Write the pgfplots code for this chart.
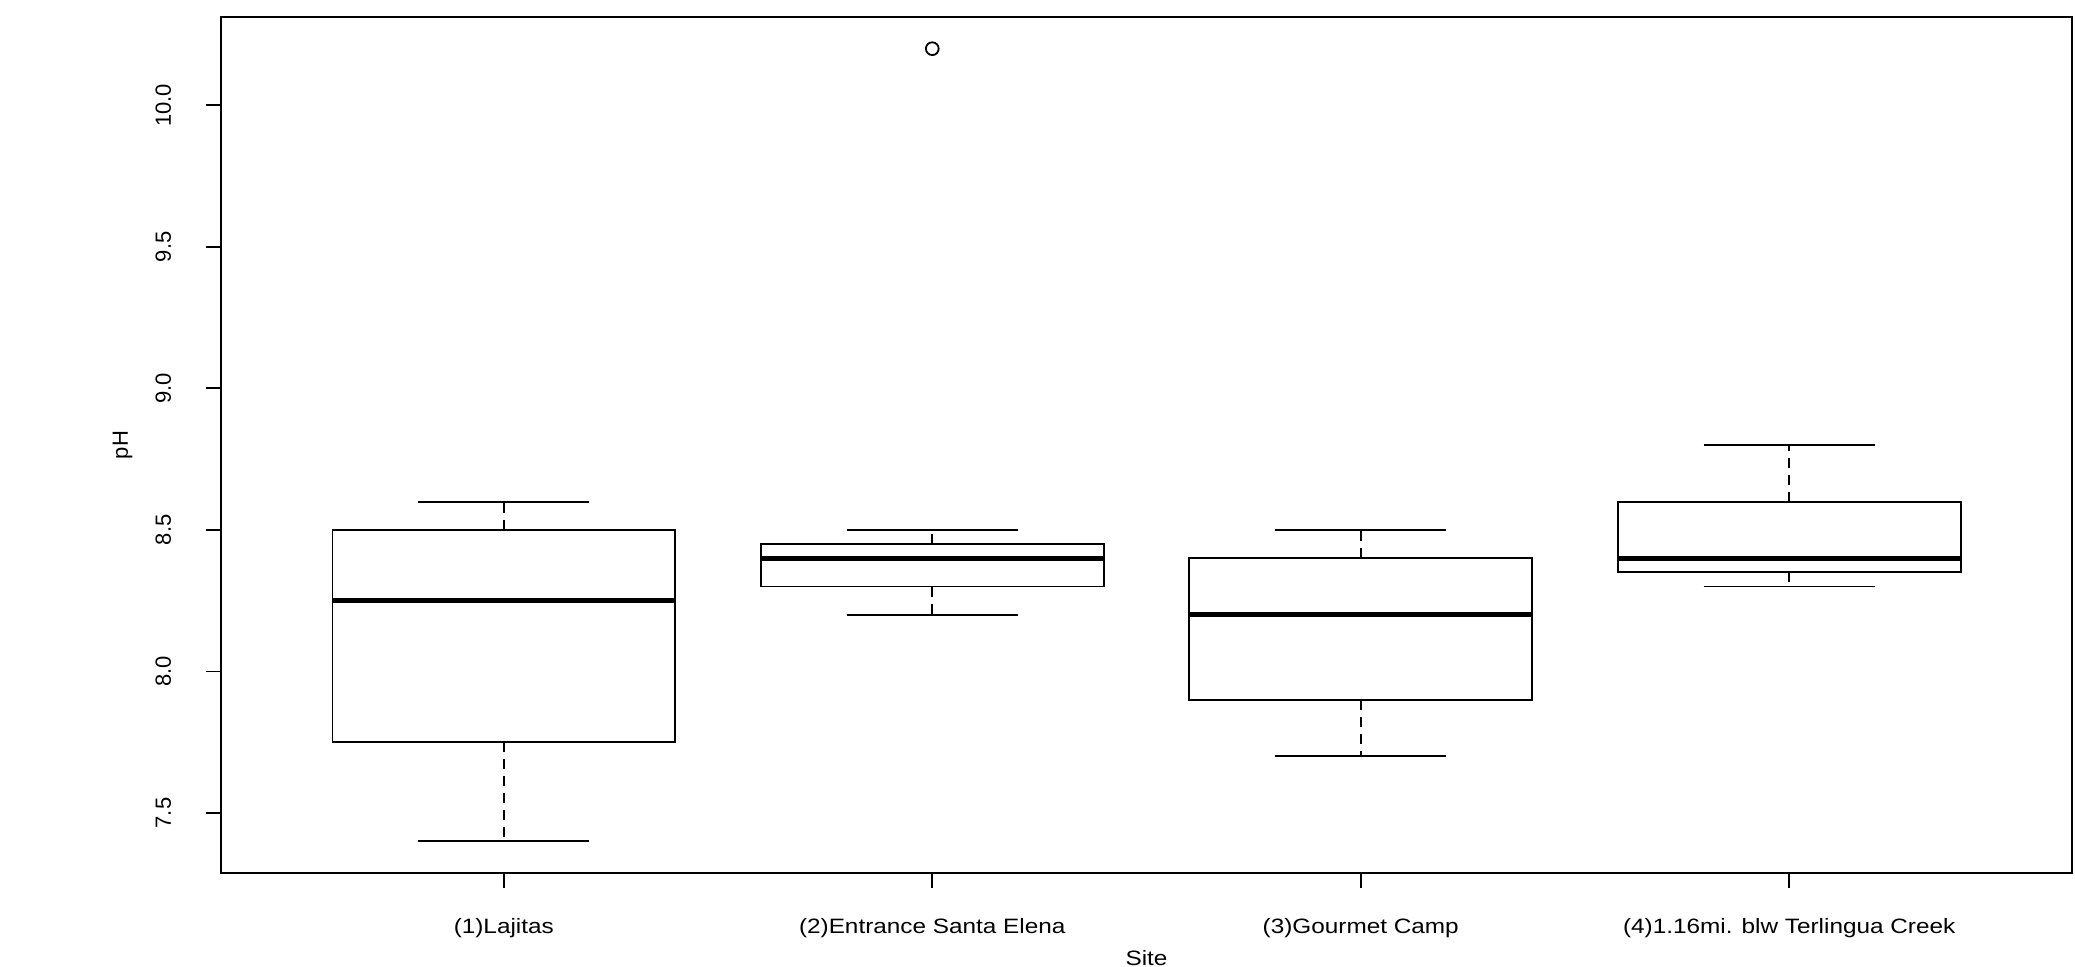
\documentclass[border=0pt]{standalone}
\usepackage{fontspec}
\setmainfont[FakeStretch=1.17]{Liberation Sans}
\newfontfamily\yfont{Liberation Sans}
\usepackage{pgfplots}
\pgfplotsset{compat=1.18}
\begin{document}
\begin{tikzpicture}
\begin{axis}[
  at={(0,0)}, anchor=south west,
  scale only axis, width=925.5pt, height=428pt,
  xmin=0.34, xmax=4.66, ymin=7.288, ymax=10.312,
  xtick={1,2,3,4},
  xticklabels={(1)Lajitas,(2)Entrance Santa Elena,(3)Gourmet Camp,(4)1.16mi. blw Terlingua Creek},
  ytick={7.5,8,8.5,9,9.5,10},
  tick pos=left, tick align=outside, major tick length=7.5pt,
  axis line style={line width=1pt, black},
  every tick/.style={black, line width=0.9pt},
  xticklabel style={font=\fontsize{10.4}{12}\selectfont, anchor=north, yshift=-11.7pt},
  yticklabel style={font=\yfont\fontsize{11}{13}\selectfont, rotate=90, anchor=south,
    /pgf/number format/.cd, fixed, fixed zerofill, precision=1, assume math mode=true},
  yticklabel shift=13.9pt,
  xlabel={Site},
  xlabel style={font=\fontsize{10.4}{12}\selectfont, at={(axis description cs:0.5,0)}, anchor=north, yshift=-35.3pt},
  ylabel={pH},
  ylabel style={font=\yfont\fontsize{11}{13}\selectfont, at={([xshift=-49.25pt]axis description cs:0,0.5)}, anchor=center, rotate=0},
  box/.style={black, line width=0.9pt, mark=none, line join=miter},
  med/.style={black, line width=2.6pt, mark=none, line cap=butt},
  stem/.style={black, line width=0.9pt, mark=none, dash pattern=on 5pt off 3.5pt},
  cap/.style={black, line width=0.9pt, mark=none},
]
% (1) Lajitas: whiskers 7.4 / 8.6, quartiles 7.75 / 8.5, median 8.25
\addplot[stem] coordinates {(1,8.5) (1,8.6)};
\addplot[stem] coordinates {(1,7.75) (1,7.4)};
\addplot[cap] coordinates {(0.8,8.6) (1.2,8.6)};
\addplot[cap] coordinates {(0.8,7.4) (1.2,7.4)};
\addplot[box] coordinates {(0.6,7.75) (1.4,7.75) (1.4,8.5) (0.6,8.5)} -- cycle;
\addplot[med] coordinates {(0.6,8.25) (1.4,8.25)};
% (2) Entrance Santa Elena: whiskers 8.2 / 8.5, quartiles 8.3 / 8.45, median 8.4, outlier 10.2
\addplot[stem] coordinates {(2,8.45) (2,8.5)};
\addplot[stem] coordinates {(2,8.3) (2,8.2)};
\addplot[cap] coordinates {(1.8,8.5) (2.2,8.5)};
\addplot[cap] coordinates {(1.8,8.2) (2.2,8.2)};
\addplot[box] coordinates {(1.6,8.3) (2.4,8.3) (2.4,8.45) (1.6,8.45)} -- cycle;
\addplot[med] coordinates {(1.6,8.4) (2.4,8.4)};
\addplot[only marks, mark=o, mark size=3.2pt, mark options={black, line width=0.9pt}] coordinates {(2,10.2)};
% (3) Gourmet Camp: whiskers 7.7 / 8.5, quartiles 7.9 / 8.4, median 8.2
\addplot[stem] coordinates {(3,8.4) (3,8.5)};
\addplot[stem] coordinates {(3,7.9) (3,7.7)};
\addplot[cap] coordinates {(2.8,8.5) (3.2,8.5)};
\addplot[cap] coordinates {(2.8,7.7) (3.2,7.7)};
\addplot[box] coordinates {(2.6,7.9) (3.4,7.9) (3.4,8.4) (2.6,8.4)} -- cycle;
\addplot[med] coordinates {(2.6,8.2) (3.4,8.2)};
% (4) 1.16mi. blw Terlingua Creek: whiskers 8.3 / 8.8, quartiles 8.35 / 8.6, median 8.4
\addplot[stem] coordinates {(4,8.6) (4,8.8)};
\addplot[stem] coordinates {(4,8.35) (4,8.3)};
\addplot[cap] coordinates {(3.8,8.8) (4.2,8.8)};
\addplot[cap] coordinates {(3.8,8.3) (4.2,8.3)};
\addplot[box] coordinates {(3.6,8.35) (4.4,8.35) (4.4,8.6) (3.6,8.6)} -- cycle;
\addplot[med] coordinates {(3.6,8.4) (4.4,8.4)};
\end{axis}
\pgfresetboundingbox
\useasboundingbox (-110.5pt,-47pt) rectangle (927pt,436.5pt);
\end{tikzpicture}
\end{document}
